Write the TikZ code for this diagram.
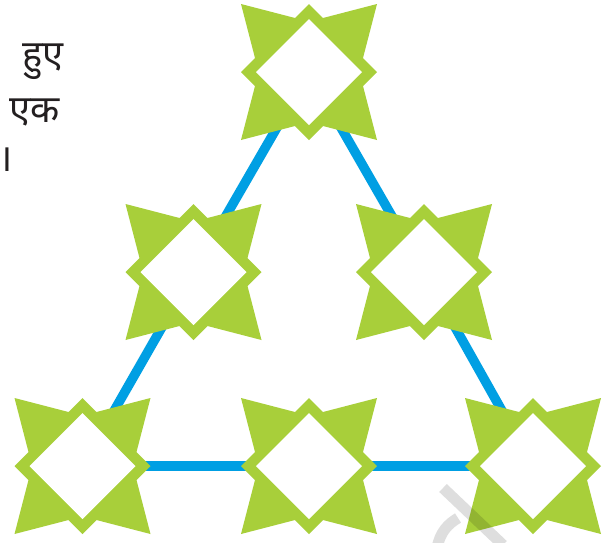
\documentclass[tikz,border=0pt]{standalone}
\usepackage{fontspec}
\newfontfamily\deva[Script=Devanagari]{Noto Sans}
\definecolor{stargreen}{HTML}{A8CF3A}
\definecolor{linkblue}{HTML}{009FE3}
\definecolor{inkgray}{HTML}{231F20}
\begin{document}
\begin{tikzpicture}[x=1pt,y=-1pt,
  link/.style={draw=linkblue,line width=9.5pt},
  txt/.style={inner sep=0pt,anchor=base east,text=inkgray,font=\deva\fontsize{38}{44}\selectfont},
  wmark/.style={draw=black,draw opacity=0.13,line width=11pt},
  starbox/.pic={
    \fill[stargreen] (0,-68) -- (14,-54) -- (68,-68) -- (54,-14) -- (68,0) -- (54,14) -- (68,68) -- (14,54)
      -- (0,68) -- (-14,54) -- (-68,68) -- (-54,14) -- (-68,0) -- (-54,-14) -- (-68,-68) -- (-14,-54) -- cycle;
    \fill[white] (0,-53) -- (53,0) -- (0,53) -- (-53,0) -- cycle;
  }]
\useasboundingbox (0,0) rectangle (610,542);
\fill[white] (0,0) rectangle (610,542);
% node centres
\coordinate (top) at (309,72);
\coordinate (ml) at (193.5,272);
\coordinate (mr) at (424,272);
\coordinate (bl) at (82.5,466);
\coordinate (bm) at (309,466);
\coordinate (br) at (533,466);
% connectors
\draw[link] (top) -- (ml) -- (bl);
\draw[link] (top) -- (mr) -- (br);
\draw[link] (bl) -- (bm) -- (br);
% stars
\foreach \n in {top,ml,mr,bl,bm,br} { \pic at (\n) {starbox}; }
% text fragments
\node[txt] (t1) at (64,67) {हुए};
\node[txt] (t2) at (60,122) {एक};
\node[txt] (t3) at (13,171) {।};
% watermark fragment
\coordinate (w1) at (443,488);
\coordinate (w2) at (503,545);
\draw[wmark] (w1) -- (w2);
\draw[wmark] (437,548) .. controls (440,532) and (448,524) .. (458,518);
\end{tikzpicture}
\end{document}
